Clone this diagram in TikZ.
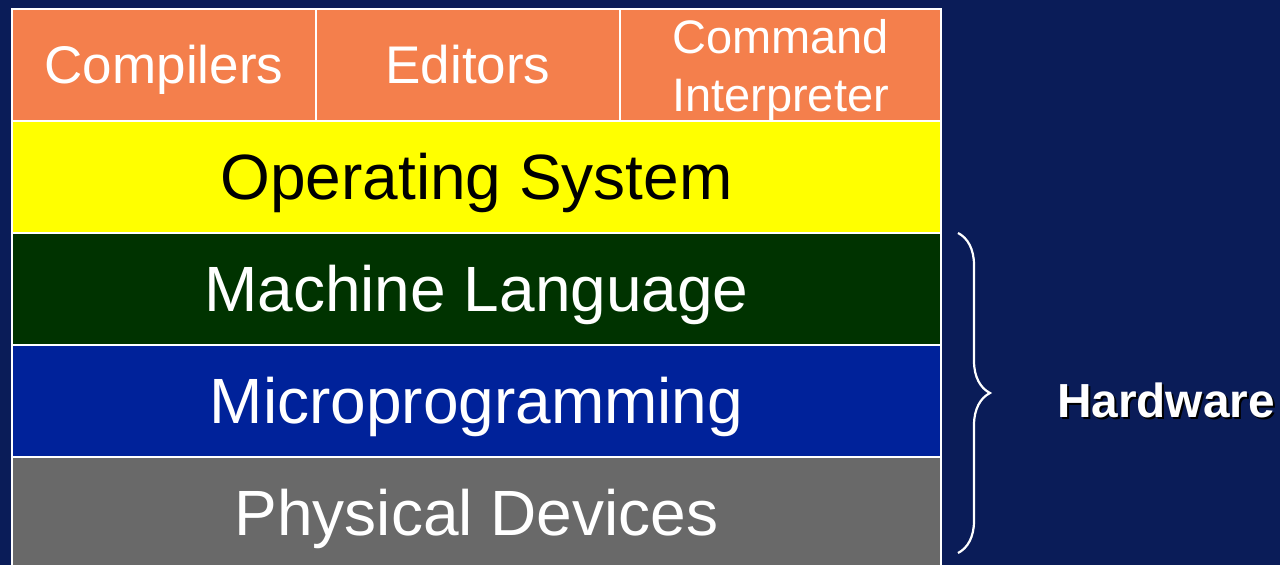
\documentclass[tikz,border=0pt]{standalone}
\usepackage{fontspec}
\setmainfont{Liberation Sans}
\usetikzlibrary{decorations.pathreplacing}
\definecolor{bgnavy}{HTML}{0A1C58}
\definecolor{apporange}{HTML}{F47F4C}
\definecolor{osyellow}{HTML}{FFFF00}
\definecolor{mlgreen}{HTML}{003300}
\definecolor{mpblue}{HTML}{00229A}
\definecolor{pdgray}{HTML}{696969}
\tikzset{
  layer/.style={draw=white, line width=2pt, inner sep=0pt, minimum height=112pt,
    font=\fontsize{64}{70}\selectfont, text=white, text height=45.8pt, text depth=0pt},
  app/.style={layer, fill=apporange, font=\fontsize{53}{57}\selectfont,
    text height=37.9pt, align=center},
  wide/.style={layer, minimum width=929pt},
  hwlabel/.style={font=\bfseries\fontsize{47.8}{50}\selectfont, inner sep=0pt,
    text height=34.2pt, text depth=0pt},
}
\begin{document}
\begin{tikzpicture}[x=1pt,y=-1pt]
\useasboundingbox (0,0) rectangle (1280,565);
\fill[bgnavy] (0,0) rectangle (1280,565);
\begin{scope}
\clip (0,0) rectangle (1280,565);
% application programs
\node[app, minimum width=304pt] (comp) at (164,65) {Compilers};
\node[app, minimum width=304pt] (edit) at (468,65) {Editors};
\node[app, minimum width=321pt, font=\fontsize{47}{58}\selectfont,
  text height=92pt, text depth=0pt] (cmd) at (780.5,65) {Command\\Interpreter};
% system layers
\node[wide, fill=osyellow, text=black] (os) at (476.5,177) {Operating System};
\node[wide, fill=mlgreen] (ml) at (476.5,289) {Machine Language};
\node[wide, fill=mpblue] (mp) at (476.5,401) {Microprogramming};
\node[wide, fill=pdgray] (pd) at (476.5,513) {Physical Devices};
\end{scope}
% hardware brace
\coordinate (btop) at (958,233);
\coordinate (bbot) at (958,553);
\draw[white, line width=2.2pt, decorate, decoration={brace, amplitude=32pt}] (btop) -- (bbot);
\node[hwlabel, text=black] (hwshadow) at (1168,402.5) {Hardware};
\node[hwlabel, text=white] (hw) at (1166,400.5) {Hardware};
\end{tikzpicture}
\end{document}
